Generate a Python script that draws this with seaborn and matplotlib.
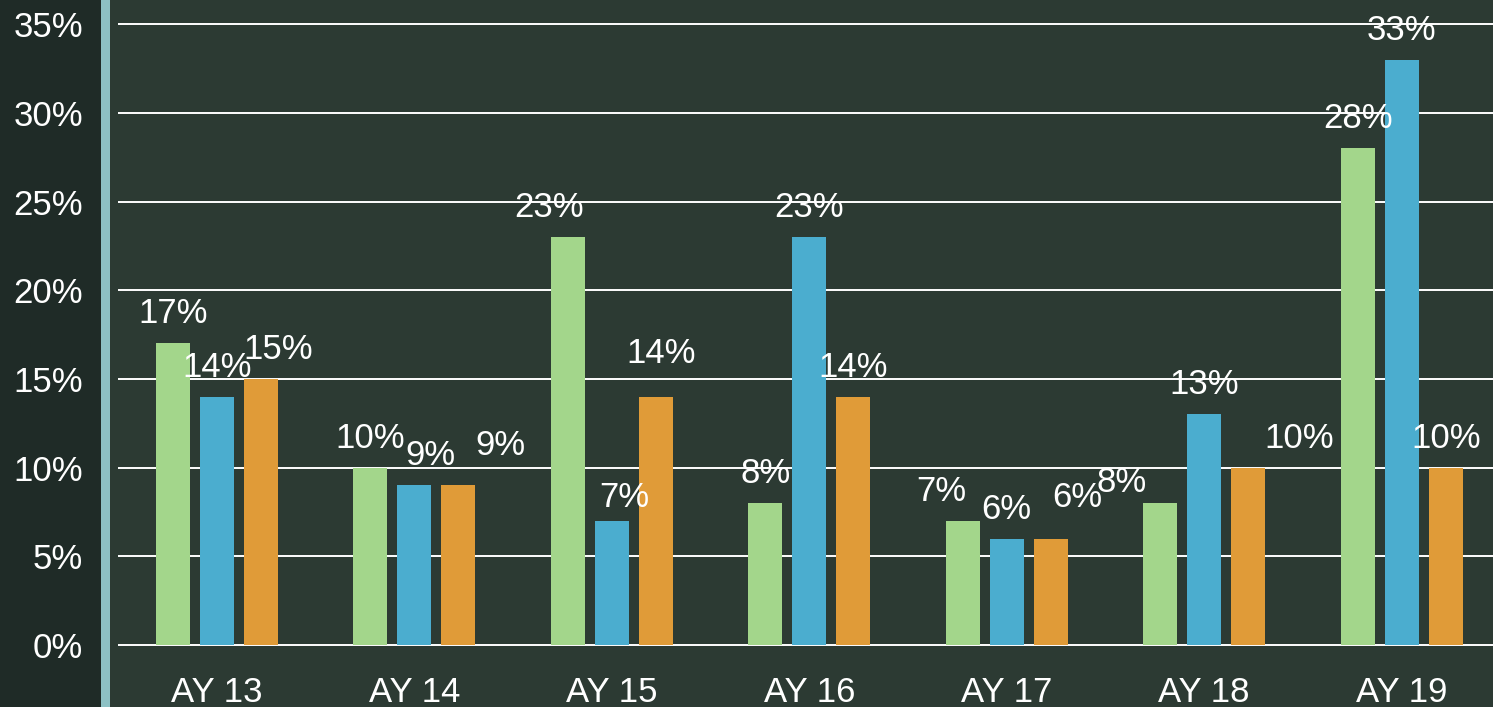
import matplotlib
matplotlib.use("Agg")
import matplotlib.pyplot as plt
import seaborn as sns
import pandas as pd
from matplotlib.patches import Rectangle

# ---- data ----
years = ["AY 13", "AY 14", "AY 15", "AY 16", "AY 17", "AY 18", "AY 19"]
series_names = ["Series 1", "Series 2", "Series 3"]
series1 = [17, 10, 23, 8, 7, 8, 28]
series2 = [14, 9, 7, 23, 6, 13, 33]
series3 = [15, 9, 14, 14, 6, 10, 10]
y_ticks = [0, 5, 10, 15, 20, 25, 30, 35]

# ---- style ----
colors = ["#a3d68b", "#4badcf", "#e09b38"]
bg = "#2c3a33"
# label nudges in pixels (dx, dy) keyed by (group index, series index)
label_nudge = {(0, 2): (17, 0), (1, 1): (16, 0), (1, 2): (42, 10),
               (2, 0): (-19, 0), (2, 1): (13, -6), (2, 2): (5, 14),
               (4, 0): (-21, 0), (4, 2): (27, 12), (5, 0): (-39, -9),
               (5, 2): (51, 0)}

df = pd.DataFrame({
    "year": years * 3,
    "series": [s for s in series_names for _ in years],
    "value": series1 + series2 + series3,
})

sns.set_style("white")
plt.rcParams["font.family"] = ["Liberation Sans", "DejaVu Sans"]

W, H = 1493, 707
fig = plt.figure(figsize=(W / 100, H / 100), dpi=100, facecolor=bg)
fig.patches.append(Rectangle((0, 0), 101 / W, 1, transform=fig.transFigure,
                             facecolor="#1f2b27", edgecolor="none", zorder=-2))
fig.patches.append(Rectangle((101 / W, 0), 9 / W, 1, transform=fig.transFigure,
                             facecolor="#8dc1c4", edgecolor="none", zorder=-2))

px_per_unit = 17.74
ax_bottom_px = 647
ax = fig.add_axes([118 / W, (H - ax_bottom_px) / H, 1382.5 / W, ax_bottom_px / H])
ax.set_facecolor("none")
ax.set_zorder(1)

sns.barplot(data=df, x="year", y="value", hue="series", hue_order=series_names,
            palette=colors, width=0.668, gap=0.227, saturation=1,
            errorbar=None, linewidth=0, legend=False, ax=ax)

ax.set_xlim(-0.5, 6.5)
ax.set_ylim(-2 / px_per_unit, 645 / px_per_unit)
ax.set_yticks(y_ticks)
ax.set_yticklabels([f"{t}%" for t in y_ticks])
ax.grid(axis="y", color="white", linewidth=1.4)
ax.grid(axis="x", visible=False)
ax.set_axisbelow(True)
for s in ax.spines.values():
    s.set_visible(False)
ax.tick_params(axis="y", length=0, pad=25, labelsize=25, labelcolor="white")
ax.tick_params(axis="x", length=0, pad=21, labelsize=25, labelcolor="white")
ax.set_xlabel("")
ax.set_ylabel("")

all_series = [series1, series2, series3]
for si, cont in enumerate(ax.containers):
    for gi, bar in enumerate(cont.patches):
        dx, dy = label_nudge.get((gi, si), (0, 0))
        xc = bar.get_x() + bar.get_width() / 2
        top = bar.get_height()
        ax.annotate(f"{all_series[si][gi]}%", (xc, top),
                    xytext=(dx, 20 + dy), textcoords="offset pixels",
                    ha="center", va="baseline", fontsize=25, color="white",
                    annotation_clip=False)

fig.savefig("out.png", dpi=100, facecolor=bg)
